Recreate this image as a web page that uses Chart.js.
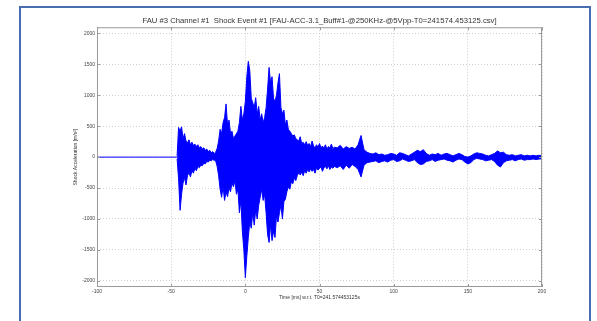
<!DOCTYPE html>
<html>
<head>
<meta charset="utf-8">
<script src="https://cdn.jsdelivr.net/npm/chart.js@4.4.1/dist/chart.umd.min.js"></script>
<style>
  html, body { margin: 0; padding: 0; background: #fff; }
  #frame {
    position: absolute; left: 19px; top: 6px; width: 572px; height: 340px;
    border: 2px solid #4a6db0; box-sizing: border-box;
  }
  #c { position: absolute; left: 0; top: 0; }
</style>
</head>
<body>
<div id="frame"></div>
<canvas id="c" width="597" height="321"></canvas>
<script>
const titleText = 'FAU #3 Channel #1  Shock Event #1 [FAU-ACC-3.1_Buff#1-@250KHz-@5Vpp-T0=241574.453125.csv]';
const xTitle = 'Time [ms] w.r.t. T0=241.574453125s';
const yTitle = 'Shock Acceleration [m/s\u00B2]';

const xTicks = [-100, -50, 0, 50, 100, 150, 200];
const yTicks = [-2000, -1500, -1000, -500, 0, 500, 1000, 1500, 2000];

// quiet pre-trigger part
const baseTimes = [-100, -46];
const baseValues = [0, 0];

// envelope of the shock signal (ms, upper peak, lower peak)
const sampleTimes = [
  -46, -45, -44, -43, -42, -41, -40, -39, -38, -37,
  -36, -35, -34, -33, -32, -31, -30, -29, -28, -27,
  -26, -25, -24, -23, -22, -21, -20, -19, -18, -17,
  -16, -15, -14, -13, -12, -11, -10, -9, -8, -7,
  -6, -5, -4, -3, -2, -1, 0, 1, 2, 3,
  4, 5, 6, 7, 8, 9, 10, 11, 12, 13,
  14, 15, 16, 17, 18, 19, 20, 21, 22, 23,
  24, 25, 26, 27, 28, 29, 30, 31, 32, 33,
  34, 35, 36, 37, 38, 39, 40, 41, 42, 43,
  44, 45, 46, 47, 48, 49, 50, 51, 52, 53,
  54, 55, 56, 57, 58, 59, 60,
  62, 64, 66, 68, 70, 72, 74, 76, 78, 80,
  82, 84, 86, 88, 90, 92, 94, 96, 98, 100,
  102, 104, 106, 108, 110, 112, 114, 116, 118, 120,
  122, 124, 126, 128, 130, 132, 134, 136, 138, 140,
  142, 144, 146, 148, 150, 152, 154, 156, 158, 160,
  162, 164, 166, 168, 170, 172, 174, 176, 178, 180,
  182, 184, 186, 188, 190, 192, 194, 196, 198, 200
];
const upperPeaks = [
  20, 480, 420, 490, 300, 380, 260, 230, 280, 200,
  240, 190, 210, 170, 200, 150, 170, 130, 150, 110,
  130, 90, 110, 70, 90, 60, 80, 140, 260, 450,
  380, 560, 640, 860, 520, 600, 380, 420, 300, 340,
  380, 420, 560, 820, 600, 700, 900, 1300, 1550, 1400,
  950, 880, 800, 960, 700, 820, 600, 700, 560, 640,
  800, 1100, 1450, 1200, 1300, 950, 900, 1000, 1200, 1350,
  800, 700, 760, 520, 600, 450, 420, 380, 340, 360,
  300, 280, 260, 330, 220, 240, 200, 250, 190, 220,
  170, 260, 180, 150, 200, 160, 220, 150, 180, 140,
  200, 130, 170, 150, 210, 140, 160,
  150, 190, 130, 170, 140, 160, 130, 200, 350, 120,
  80, 60, 50, 70, 40, 50, 30, 40, 60, 50,
  30, 70, 60, 40, 20, 50, 80, 110, 90, 120,
  60, 30, 50, 40, 60, 30, 50, 60, 40, 20,
  40, 60, 40, 10, 0, 20, 50, 70, 60, 50,
  30, 20, 40, 60, 100, 70, 80, 40, 30, 40,
  20, 30, 40, 20, 30, 20, 30, 20, 30, 20
];
const lowerPeaks = [
  -30, -350, -860, -600, -420, -330, -450, -300, -250, -320,
  -220, -260, -180, -220, -150, -170, -130, -140, -100, -110,
  -70, -80, -50, -60, -40, -50, -60, -150, -300, -520,
  -650, -480, -700, -560, -640, -500, -560, -420, -480, -380,
  -600, -520, -900, -700, -1200, -1500, -1950, -1600, -1300, -1050,
  -1150, -900, -1100, -850, -1000, -780, -650, -520, -700, -600,
  -900, -1250, -1380, -1100, -1350, -1200, -1300, -950, -1050, -900,
  -780, -1000, -720, -680, -560, -480, -520, -400, -430, -340,
  -380, -300, -250, -290, -240, -300, -220, -260, -200, -240,
  -190, -230, -200, -260, -170, -210, -180, -160, -230, -170,
  -150, -190, -140, -200, -160, -180, -150,
  -170, -140, -200, -130, -180, -120, -150, -200, -320, -130,
  -90, -80, -70, -60, -90, -70, -60, -80, -50, -40,
  -70, -60, -30, -50, -70, -60, -40, -90, -120, -110,
  -70, -60, -40, -70, -50, -40, -30, -50, -60, -80,
  -50, -30, -40, -80, -110, -90, -40, -20, -30, -40,
  -60, -50, -40, -70, -130, -160, -90, -60, -50, -40,
  -60, -40, -30, -50, -40, -40, -30, -40, -30, -30
];

const baseLine = baseTimes.map((t, i) => ({ x: t, y: baseValues[i] }));
const upperLine = sampleTimes.map((t, i) => ({ x: t, y: upperPeaks[i] }));
const lowerLine = sampleTimes.map((t, i) => ({ x: t, y: lowerPeaks[i] }));

const BLUE = '#0000ff';
const tickFont = { family: 'Liberation Sans, Arial, sans-serif', size: 5 };

// matlab style box with inward ticks
const boxPlugin = {
  id: 'box',
  afterDraw(chart) {
    const { ctx, chartArea: a, scales } = chart;
    ctx.save();
    ctx.strokeStyle = '#9a9a9a';
    ctx.lineWidth = 1;
    ctx.strokeRect(a.left + 0.5, a.top + 0.5, a.right - a.left - 1, a.bottom - a.top - 1);
    ctx.beginPath();
    xTicks.forEach(v => {
      const px = Math.round(scales.x.getPixelForValue(v)) + 0.5;
      ctx.moveTo(px, a.bottom); ctx.lineTo(px, a.bottom - 3);
      ctx.moveTo(px, a.top); ctx.lineTo(px, a.top + 3);
    });
    yTicks.forEach(v => {
      const py = Math.round(scales.y.getPixelForValue(v)) + 0.5;
      ctx.moveTo(a.left, py); ctx.lineTo(a.left + 3, py);
      ctx.moveTo(a.right, py); ctx.lineTo(a.right - 3, py);
    });
    ctx.stroke();
    ctx.restore();
  }
};

new Chart(document.getElementById('c'), {
  type: 'line',
  data: {
    datasets: [
      { data: baseLine, borderColor: BLUE, borderWidth: 1, pointRadius: 0, fill: false },
      { data: upperLine, borderColor: BLUE, backgroundColor: BLUE, borderWidth: 1, pointRadius: 0, fill: '+1' },
      { data: lowerLine, borderColor: BLUE, borderWidth: 1, pointRadius: 0, fill: false }
    ]
  },
  options: {
    responsive: false,
    animation: false,
    events: [],
    layout: { padding: { left: 73, right: 55, top: 0, bottom: 16 } },
    plugins: {
      legend: { display: false },
      tooltip: { enabled: false },
      title: {
        display: true,
        fullSize: false,
        text: titleText,
        color: '#333',
        font: { family: 'Liberation Sans, Arial, sans-serif', size: 7.7, weight: 'normal' },
        padding: { top: 16, bottom: 2 }
      }
    },
    scales: {
      x: {
        type: 'linear',
        min: -100,
        max: 200,
        afterBuildTicks: s => { s.ticks = xTicks.map(v => ({ value: v })); },
        afterFit: s => { s.height = 18; },
        grid: { color: '#cfcfcf', lineWidth: 1, drawTicks: false },
        border: { display: false, dash: [1, 2] },
        ticks: { font: tickFont, color: '#444', padding: 2, maxRotation: 0, callback: v => String(v) },
        title: { display: true, text: xTitle, font: tickFont, color: '#333', padding: { top: 0, bottom: 4 } }
      },
      y: {
        min: -2100,
        max: 2100,
        afterBuildTicks: s => { s.ticks = yTicks.map(v => ({ value: v })); },
        afterFit: s => { s.width = 24; },
        grid: { color: '#cfcfcf', lineWidth: 1, drawTicks: false },
        border: { display: false, dash: [1, 2] },
        ticks: { font: tickFont, color: '#444', padding: 2, callback: v => String(v) },
        title: { display: true, text: yTitle, font: tickFont, color: '#333', padding: { top: 0, bottom: 0 } }
      }
    }
  },
  plugins: [boxPlugin]
});
</script>
</body>
</html>
